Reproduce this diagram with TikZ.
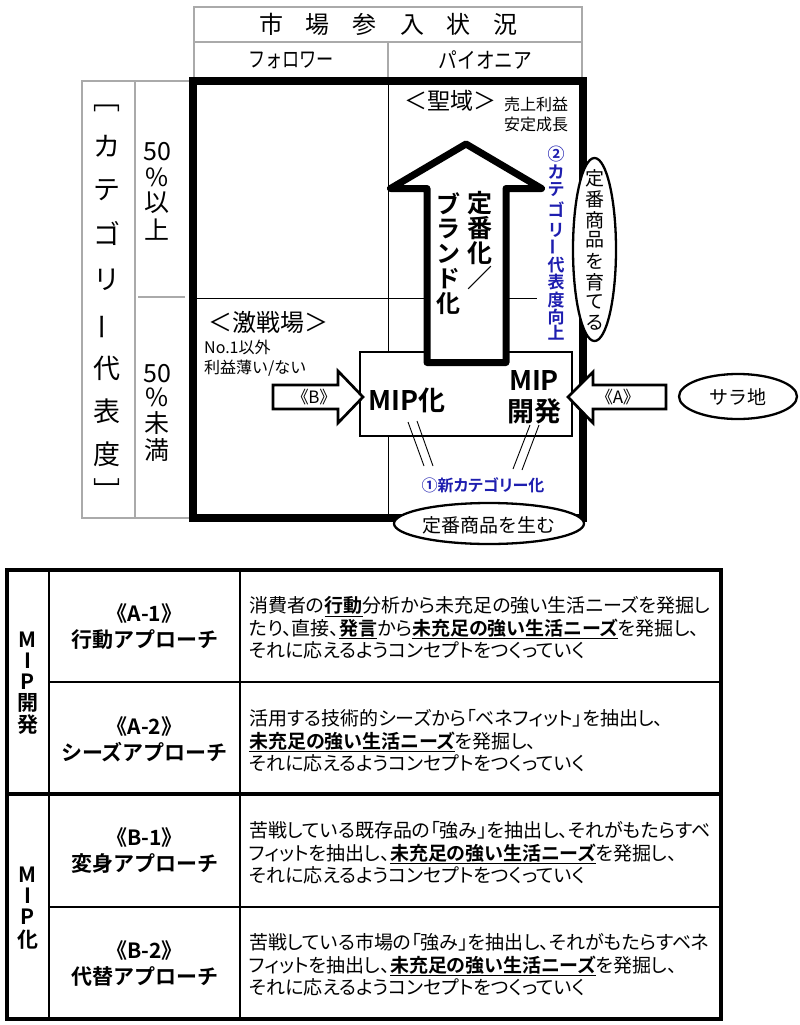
\documentclass[tikz,border=0pt]{standalone}
\usepackage{fontspec}
\usepackage{graphicx}
\setmainfont{Noto Sans CJK JP}[BoldFont={Noto Sans CJK JP Bold}]
\newfontfamily\jpp{Noto Sans CJK JP}[RawFeature=+palt,BoldFont={Noto Sans CJK JP Bold}]
\usetikzlibrary{shapes.geometric}
\definecolor{grayline}{RGB}{170,170,170}
\definecolor{bluetxt}{RGB}{30,30,175}
\newcommand\fsz[2]{\fontsize{#1}{#2}\selectfont}
\newcommand\ulb[1]{\underline{\textbf{#1}}}
\begin{document}
\begin{tikzpicture}[x=1pt,y=-1pt,
  grayl/.style={draw=grayline, line width=1.3pt},
  thinl/.style={draw=black, line width=0.9pt},
  thickframe/.style={draw=black, line width=8pt},
  blockarrow/.style={draw=black, fill=white, line width=2.7pt, line join=miter},
  bigarrow/.style={draw=black, fill=white, line width=7pt, line join=round},
  bubble/.style={ellipse, draw=black, fill=white, line width=2.3pt, inner sep=0pt},
  tabthick/.style={draw=black, line width=4pt},
  tabthin/.style={draw=black, line width=1.3pt},
  linkline/.style={draw=black, line width=0.9pt},
  txt/.style={inner sep=0pt},
  vch/.style={inner sep=0pt, font=\fsz{27}{27}},
  bodytxt/.style={inner sep=0pt, anchor=west, align=left, font=\jpp\fsz{19}{22.5}},
  headtxt/.style={inner sep=0pt, align=center, font=\fsz{21}{26}\bfseries}
]
\useasboundingbox (0,0) rectangle (800,1025);

% ---------- header ----------
\draw[grayl] (194,77) -- (194,7) -- (582,7) -- (582,77);
\draw[grayl] (194,42) -- (582,42);
\draw[grayl] (388,42) -- (388,77);
\node[txt] (hdr) at (388.5,24) {\fsz{24}{24}市\hspace{23pt}場\hspace{23pt}参\hspace{23pt}入\hspace{23pt}状\hspace{23pt}況};
\node[txt] (fol) at (291,60) {\fsz{22}{22}\scalebox{0.78}[1]{フォロワー}};
\node[txt] (pio) at (485.5,60) {\fsz{22}{22}\scalebox{0.85}[1]{パイオニア}};

% ---------- left label box ----------
\draw[grayl] (189,81) -- (82,81) -- (82,518) -- (189,518);
\draw[grayl] (135,81) -- (135,518);
\draw[grayl] (138,297) -- (185,297);
\node[vch] (lcopen) at (107,108) {﹇};
\foreach \c/\y [count=\i] in {カ/146,テ/190,ゴ/233,リ/280,代/368,表/411,度/454}
  \node[vch] (lc\i) at (107,\y) {\c};
\node[vch, rotate=90] (lcbar) at (107,327) {ー};
\node[vch] (lcclose) at (107,490) {﹈};
\foreach \c/\y [count=\i] in {50/152,\%/177,以/203,上/230}
  \node[txt, font=\fsz{25}{25}] (up\i) at (157,\y) {\c};
\foreach \c/\y [count=\i] in {50/374,\%/397,未/423,満/450}
  \node[txt, font=\fsz{25}{25}] (lo\i) at (157,\y) {\c};

% ---------- matrix ----------
\draw[thinl] (388,81) -- (388,517);
\draw[thinl] (193,298) -- (537,298);
\draw[thickframe] (193,81) rectangle (583,517.5);

% MIP box
\draw[draw=black, fill=white, line width=2.6pt] (360,352) rectangle (572,436);

% big up arrow
\draw[bigarrow] (466,144) -- (541.5,188.5) -- (506,188.5) -- (506,362.5) -- (427,362.5) -- (427,188.5) -- (390.5,188.5) -- cycle;
\foreach \c/\y [count=\i] in {定/203,番/228,化/253,／/278}
  \node[txt, font=\fsz{25}{25}\bfseries] (ar\i) at (480,\y) {\c};
\foreach \c/\y [count=\i] in {ブ/204,ラ/229,ン/254,ド/279,化/304}
  \node[txt, font=\fsz{24}{24}\bfseries] (al\i) at (448,\y) {\c};

% block arrows
\draw[blockarrow] (273,385) -- (338,385) -- (338,371) -- (363,397) -- (338,423) -- (338,409) -- (273,409) -- cycle;
\draw[blockarrow] (666,385) -- (593,385) -- (593,372) -- (568,397) -- (593,423) -- (593,409) -- (666,409) -- cycle;
\node[txt, font=\jpp\fsz{17}{17}] (bl) at (314,397) {《B》};
\node[txt, font=\jpp\fsz{17}{17}] (alab) at (618,397) {《A》};

% bubbles
\node[bubble, minimum width=43pt, minimum height=183pt] (grow) at (594.5,249.5) {};
\foreach \c/\y [count=\i] in {定/178,番/199,商/220,品/240,を/261,育/282,て/302,る/323}
  \node[txt, font=\fsz{19}{19}] (gr\i) at (594.5,\y) {\c};
\node[bubble, minimum width=118pt, minimum height=45pt] (sara) at (738,396.5) {};
\node[txt, font=\fsz{19}{19}] (saratxt) at (738,397) {サラ地};
\node[bubble, minimum width=190pt, minimum height=41pt] (birth) at (489,523.5) {};
\node[txt, font=\fsz{19}{19}] (birthtxt) at (489,525) {定番商品を生む};

% texts in matrix
\node[txt, font=\fsz{23}{23}] (seiiki) at (450,101) {＜聖域＞};
\node[txt, anchor=west, align=left, font=\fsz{16}{20}] (uri) at (504,114) {売上利益\\安定成長};
\node[txt, font=\fsz{24}{24}] (gekisen) at (268,322) {＜激戦場＞};
\node[txt, anchor=west, align=left, font=\fsz{16}{20}] (no1) at (204,358) {No.1以外\\利益薄い/ない};
\node[txt, font=\fsz{27}{27}\bfseries] (mipka) at (407,400) {MIP化};
\node[txt, align=center, font=\fsz{27}{31}\bfseries] (mipdev) at (534,397) {MIP\\開発};

% blue vertical label
\foreach \c/\y [count=\i] in {②/154,カ/172,テ/190,ゴ/210,リ/230,代/265,表/282,度/300,向/317,上/333}
  \node[txt, text=bluetxt, font=\fsz{17}{17}\bfseries] (bt\i) at (556,\y) {\c};
\node[txt, rotate=90, text=bluetxt, font=\fsz{17}{17}\bfseries] (btbar) at (556,247) {ー};
\node[txt, text=bluetxt, font=\jpp\fsz{16}{16}\bfseries] (newcat) at (483,485) {①新カテゴリー化};

% link lines
\coordinate (l1a) at (408,422); \coordinate (l1b) at (424,466);
\coordinate (l2a) at (417,421); \coordinate (l2b) at (433,466);
\coordinate (r1a) at (530,425); \coordinate (r1b) at (513,469);
\coordinate (r2a) at (539,425); \coordinate (r2b) at (522,470);
\draw[linkline] (l1a) -- (l1b);
\draw[linkline] (l2a) -- (l2b);
\draw[linkline] (r1a) -- (r1b);
\draw[linkline] (r2a) -- (r2b);

% ---------- table ----------
\draw[tabthin] (49,570) -- (49,1018.5);
\draw[tabthin] (240,570) -- (240,1018.5);
\draw[tabthin] (49,682) -- (721,682);
\draw[tabthin] (49,907) -- (721,907);
\draw[tabthick] (6.5,794) -- (721,794);
\draw[tabthick] (6.5,570) rectangle (721,1018.5);

\foreach \c/\y [count=\i] in {M/640,I/661,P/682,開/703,発/725}
  \node[txt, font=\fsz{21}{21}\bfseries] (ga\i) at (27.5,\y) {\c};
\foreach \c/\y [count=\i] in {M/875,I/896,P/917,化/940}
  \node[txt, font=\fsz{21}{21}\bfseries] (gb\i) at (27.5,\y) {\c};

\node[headtxt] (h1) at (144.5,627) {《A-1》\\行動アプローチ};
\node[headtxt] (h2) at (144.5,739) {《A-2》\\シーズアプローチ};
\node[headtxt] (h3) at (144.5,851) {《B-1》\\変身アプローチ};
\node[headtxt] (h4) at (144.5,963) {《B-2》\\代替アプローチ};

\node[bodytxt] (b1) at (249,628) {消費者の\ulb{行動}分析から未充足の強い生活ニーズを発掘し\\たり、直接、\ulb{発言}から\ulb{未充足の強い生活ニーズ}を発掘し、\\それに応えるようコンセプトをつくっていく};
\node[bodytxt] (b2) at (249,741) {活用する技術的シーズから「ベネフィット」を抽出し、\\\ulb{未充足の強い生活ニーズ}を発掘し、\\それに応えるようコンセプトをつくっていく};
\node[bodytxt] (b3) at (249,853) {苦戦している既存品の「強み」を抽出し、それがもたらすベ\\フィットを抽出し、\ulb{未充足の強い生活ニーズ}を発掘し、\\それに応えるようコンセプトをつくっていく};
\node[bodytxt] (b4) at (249,965) {苦戦している市場の「強み」を抽出し、それがもたらすベネ\\フィットを抽出し、\ulb{未充足の強い生活ニーズ}を発掘し、\\それに応えるようコンセプトをつくっていく};
\end{tikzpicture}
\end{document}
